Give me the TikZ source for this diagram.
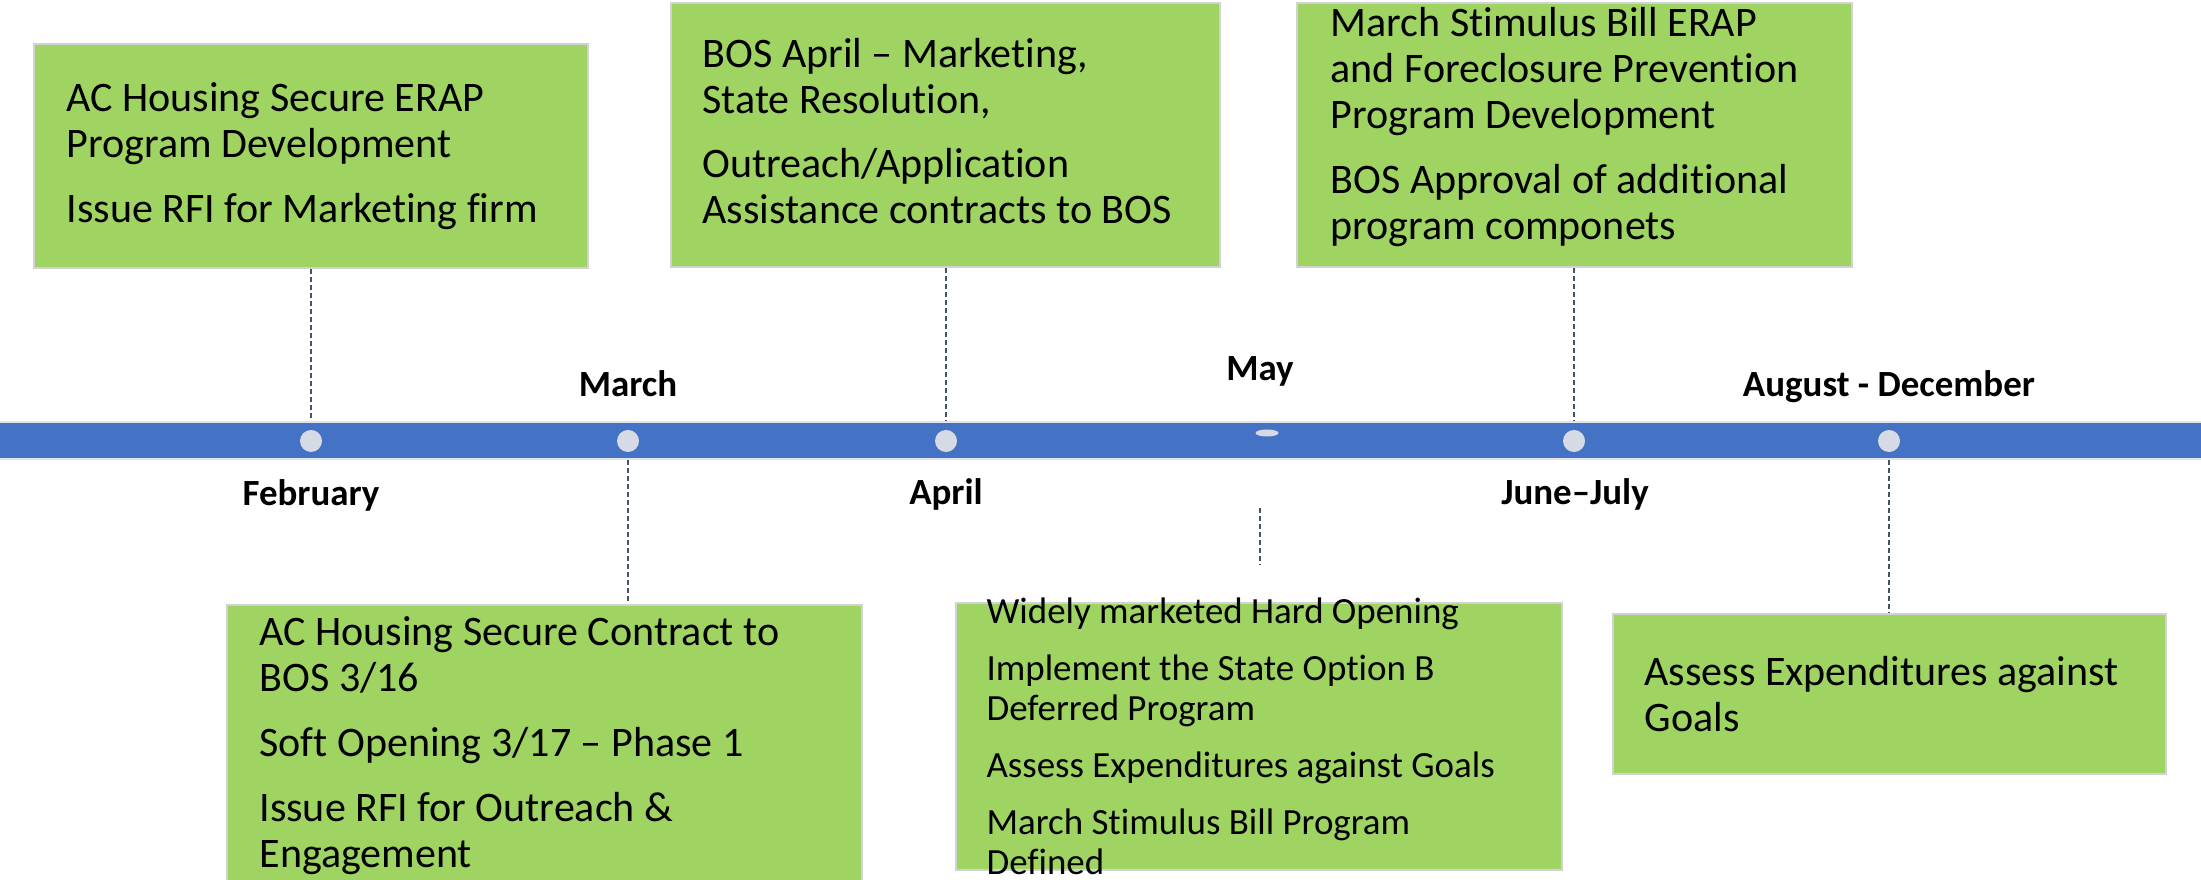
\documentclass[tikz,border=0pt]{standalone}
\usepackage{fontspec}
\setmainfont{Carlito}[Ligatures=NoCommon]
\usetikzlibrary{positioning,shapes.geometric}
\definecolor{boxgreen}{RGB}{159,211,98}
\definecolor{boxline}{RGB}{208,210,212}
\definecolor{barblue}{RGB}{68,114,196}
\definecolor{barline}{RGB}{226,227,234}
\definecolor{dotgrey}{RGB}{214,218,228}
\definecolor{leadgrey}{RGB}{68,84,106}
\tikzset{bx/.style={rectangle,draw=boxline,line width=0.02cm,fill=boxgreen,inner sep=0},
  bt/.style={align=left,inner sep=0,font=\fontsize{11.95}{13.1}\selectfont},
  btsmall/.style={align=left,inner sep=0,font=\fontsize{10.5}{11.4}\selectfont},
  mon/.style={anchor=base,inner sep=0,font=\fontsize{10.5}{12}\selectfont\bfseries},
  tl/.style={rectangle,draw=barline,line width=0.025cm,fill=barblue,inner sep=0},
  dt/.style={circle,fill=dotgrey,minimum size=0.22cm,inner sep=0},
  lead/.style={draw=leadgrey,line width=0.45pt,dash pattern=on 0.05cm off 0.03cm}}
\newcommand{\gap}{\\[5.3pt]}

\begin{document}
\begin{tikzpicture}[x=0.01cm,y=-0.01cm]
  \useasboundingbox (0,0) rectangle (2201,880);
  % timeline
  \node[tl,minimum width=22.6cm,minimum height=0.37cm] (bar) at (1100,440.5) {};
  \node[dt] (d1) at (311,441) {};
  \node[dt] (d2) at (628,441) {};
  \node[dt] (d3) at (946,441) {};
  \node[dt,ellipse,minimum width=0.23cm,minimum height=0.07cm] (d4) at (1267,433) {};
  \node[dt] (d5) at (1574,441) {};
  \node[dt] (d6) at (1889,441) {};
  \node[mon] (l1) at (311,506) {February};
  \node[mon] (l2) at (628,397) {March};
  \node[mon] (l3) at (946,505) {April};
  \node[mon] (l4) at (1260,381) {May};
  \node[mon] (l5) at (1575,505) {June–July};
  \node[mon] (l6) at (1889,397) {August - December};
  % boxes above
  \node[bx,minimum width=5.54cm,minimum height=2.24cm] (b1) at (311,156) {};
  \node[bt,right=0.33cm of b1.west] (t1) {AC Housing Secure ERAP\\Program Development\gap Issue RFI for Marketing firm};
  \node[bx,minimum width=5.49cm,minimum height=2.64cm] (b2) at (945.5,135) {};
  \node[bt,right=0.32cm of b2.west,yshift=0.04cm] (t2) {BOS April – Marketing,\\State Resolution,\gap Outreach/Application\\Assistance contracts to BOS};
  \node[bx,minimum width=5.55cm,minimum height=2.64cm] (b3) at (1574.5,135) {};
  \node[bt,right=0.34cm of b3.west,yshift=0.08cm] (t3) {March Stimulus Bill ERAP\\and Foreclosure Prevention\\Program Development\gap BOS Approval of additional\\program componets};
  % boxes below
  \node[bx,minimum width=6.35cm,minimum height=2.81cm] (b4) at (544.5,745.5) {};
  \node[bt,right=0.33cm of b4.west] (t4) {AC Housing Secure Contract to\\BOS 3/16\gap Soft Opening 3/17 – Phase 1\gap Issue RFI for Outreach \&\\Engagement};
  \node[bx,minimum width=6.06cm,minimum height=2.67cm] (b5) at (1259,736.5) {};
  \node[btsmall,right=0.31cm of b5.west] (t5) {Widely marketed Hard Opening\\[4.8pt]Implement the State Option B\\Deferred Program\\[4.8pt]Assess Expenditures against Goals\\[4.8pt]March Stimulus Bill Program\\Defined};
  \node[bx,minimum width=5.53cm,minimum height=1.60cm] (b6) at (1889.5,694) {};
  \node[bt,right=0.32cm of b6.west] (t6) {Assess Expenditures against\\Goals};
  % leaders
  \draw[lead] (d1 |- b1.south) -- (d1 |- bar.north);
  \draw[lead] (d3 |- b2.south) -- (d3 |- bar.north);
  \draw[lead] (d5 |- b3.south) -- (d5 |- bar.north);
  \draw[lead] (d2 |- bar.south) -- (d2 |- b4.north);
  \draw[lead] (d6 |- bar.south) -- (d6 |- b6.north);
  \coordinate (m1) at (1260,508);
  \coordinate (m2) at (1260,565);
  \draw[lead] (m1) -- (m2);
\end{tikzpicture}
\end{document}
